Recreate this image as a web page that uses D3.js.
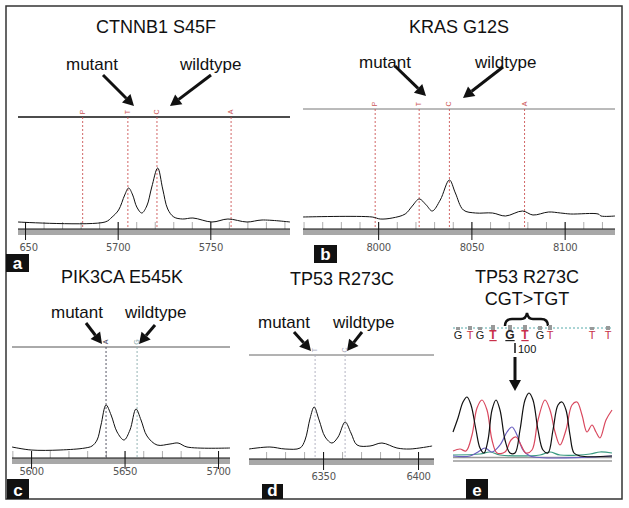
<!DOCTYPE html>
<html><head><meta charset="utf-8">
<script src="https://cdn.jsdelivr.net/npm/d3@7"></script>
<style>
html,body{margin:0;padding:0;background:#fff;}
svg{display:block;font-family:"Liberation Sans",Arial,Helvetica,sans-serif;}
</style></head>
<body><svg id="fig" width="629" height="508"></svg>
<script>
// ---------- DATA ----------
// Panel a: CTNNB1 S45F (mass, relative intensity)
const aMass = [5646.2,5693.2,5697,5700.5,5703.8,5705.9,5708.1,5710.3,5713,5715.7,5718.4,5721.6,5724.3,5727,5730.3,5735,5740.6,5750.9,5759.5,5769.8,5777.9,5793];
const aInt  = [7,7,12,19,34,41,34,22,16,23,42,61,40,20,12,10,11,7,10,7,9,7];
const aMarks = [5681.1,5705.5,5721.2,5761.2];
const aMarkLabels = ["P","T","C","A"];
const aTicks = [5650,5700,5750];
const aTickLabels = ["650","5700","5750"];

// Panel b: KRAS G12S
const bMass = [7959.7,7996.8,8001.1,8007.5,8014.5,8018.3,8022,8025.8,8029,8033.3,8038.2,8041.4,8045.7,8052.2,8061.3,8068.3,8077.4,8083,8091.4,8097.8,8103.2,8118,8119.5,8127];
const bInt  = [12,12,10,11,15,23,30,24,18,29,49,36,19,16,16,13,18,14,17,16,15,15,13,13];
const bMarks = [7998.4,8022,8038.2,8078.5];
const bMarkLabels = ["P","T","C","A"];
const bTicks = [8000,8050,8100];
const bTickLabels = ["8000","8050","8100"];

// Panel c: PIK3CA E545K
const cMass = [5589.8,5600,5615.5,5628.9,5632.6,5635.3,5637.4,5640.1,5642.8,5646,5649.7,5652.9,5656.1,5658.8,5662,5667.4,5674.3,5678.6,5683.4,5706.4];
const cInt  = [11,8,8,10,12,18,33,53,43,26,18,28,49,38,22,13,14,15,11,10];
const cMarks = [5640.1,5656.7];
const cMarkLabels = ["A","G"];
const cTicks = [5600,5650,5700];
const cTickLabels = ["5600","5650","5700"];

// Panel d: TP53 R273C
const dMass = [6311,6322,6330,6337.9,6340.5,6343.2,6345.3,6347.9,6351.1,6354.7,6357.9,6361.6,6364.7,6367.9,6374.7,6381,6388.9,6395.8,6407.4];
const dInt  = [10,12,10,11,19,41,52,39,22,16,22,37,26,14,13,16,11,10,13];
const dMarks = [6345.8,6361.6];
const dMarkLabels = ["T","C"];
const dTicks = [6350,6400];
const dTickLabels = ["6350","6400"];

// Panel e: Sanger chromatogram (scan position, signal)
const eBlackX = [0,5,10,14,18,23,27,31,35,39,43,47,52,57,62,67,72,76,80,85,90,95,100,105,109,113,117,121,127,159];
const eBlackY = [24,38,54,59,51,26,8,3,16,46,56,46,16,3,3,26,56,63,56,26,6,3,26,51,54,46,21,3,0,0];
const eRedX = [0,7,13,19,24,29,34,39,44,52,58,63,68,73,79,85,92,97,102,107,113,119,124,129,134,139,143,147,153,159];
const eRedY = [5,7,5,21,48,56,46,16,3,4,16,19,11,3,6,36,56,46,24,11,26,51,54,41,24,31,24,18,36,46];
const eBlueX = [0,17,25,32,39,47,54,59,64,70,77,159];
const eBlueY = [0,0,4,8,4,11,24,29,21,6,0,0];
const eGreenX = [0,27,37,47,87,97,107,137,147,159];
const eGreenY = [1,2,4,1,1,4,1,2,4,3];
const eSeq = ["G","T","G","T","G","T","G","T","T","T"];
const eSeqPos = [5,17,27,40,57,72,87,97,139,155];
const eSeqBold = [false,false,false,true,true,true,false,false,false,false];
const eQual = [3,4,3,5,5,5,4,5,3,4];

// ---------- DRAW ----------
const svg = d3.select("#fig");
svg.append("rect").attr("width",629).attr("height",508).attr("fill","#fff");
svg.append("rect").attr("x",6).attr("y",6).attr("width",616).attr("height",493)
  .attr("fill","none").attr("stroke","#333").attr("stroke-width",1.5);

function arrow(g, x1,y1,x2,y2, w){
  const ang = Math.atan2(y2-y1,x2-x1);
  const hl = 11, hw = 6;
  const bx = x2 - hl*Math.cos(ang), by = y2 - hl*Math.sin(ang);
  g.append("line").attr("x1",x1).attr("y1",y1).attr("x2",bx).attr("y2",by)
    .attr("stroke","#111").attr("stroke-width",w||3);
  const px = -Math.sin(ang)*hw, py = Math.cos(ang)*hw;
  g.append("path").attr("d",`M${x2},${y2}L${bx+px},${by+py}L${bx-px},${by-py}Z`).attr("fill","#111");
}

function letterBox(x,y,w,h,t){
  svg.append("rect").attr("x",x).attr("y",y).attr("width",w).attr("height",h).attr("fill","#111");
  svg.append("text").attr("x",x+w/2).attr("y",y+h-3).attr("text-anchor","middle")
    .attr("fill","#fff").attr("font-size",17).attr("font-weight","bold").text(t);
}

function spectrum(cfg){
  const g = svg.append("g");
  const x = d3.scaleLinear().domain(cfg.domain).range([cfg.x0,cfg.x1]);
  const y = d3.scaleLinear().domain([0,100]).range([cfg.axisY, cfg.axisY-100]);
  g.append("text").attr("x",cfg.titleX).attr("y",cfg.titleY).attr("text-anchor","middle")
    .attr("font-size",18).attr("fill","#111").text(cfg.title);
  g.append("text").attr("x",cfg.mutX).attr("y",cfg.labY).attr("font-size",17).attr("fill","#111").text("mutant");
  g.append("text").attr("x",cfg.wtX).attr("y",cfg.labY).attr("font-size",17).attr("fill","#111").text("wildtype");
  cfg.arrows.forEach(a=>arrow(g,a[0],a[1],a[2],a[3]));
  g.append("line").attr("x1",cfg.x0).attr("x2",cfg.x1).attr("y1",cfg.lineY).attr("y2",cfg.lineY)
    .attr("stroke",cfg.lineColor).attr("stroke-width",cfg.lineW);
  g.append("rect").attr("x",cfg.x0).attr("y",cfg.axisY).attr("width",cfg.x1-cfg.x0).attr("height",6).attr("fill","#a8a8a8");
  const minor = d3.range(Math.ceil(cfg.domain[0]/10)*10, cfg.domain[1], 10);
  const minAxis = d3.axisTop(x).tickValues(minor).tickSize(7).tickFormat("");
  const mg = g.append("g").attr("transform",`translate(0,${cfg.axisY})`).call(minAxis);
  mg.select(".domain").remove();
  mg.selectAll("line").attr("stroke","#999").attr("stroke-width",0.8);
  const ax = d3.axisBottom(x).tickValues(cfg.ticks).tickSize(11).tickPadding(cfg.pad)
    .tickFormat((d,i)=>cfg.tickLabels[i]);
  const ag = g.append("g").attr("transform",`translate(0,${cfg.axisY})`).call(ax);
  ag.select(".domain").attr("d",`M${cfg.x0},0H${cfg.x1}`).attr("stroke","#111").attr("stroke-width",1.2);
  ag.selectAll(".tick line").attr("y1",-7).attr("stroke","#111");
  ag.selectAll(".tick text").attr("font-size",10).attr("fill","#555")
    .attr("font-family","'DejaVu Sans',sans-serif").attr("letter-spacing",-0.3);
  if(cfg.firstAnchor){ ag.selectAll(".tick text").filter((d,i)=>i===0).attr("text-anchor","start").attr("dx",cfg.firstAnchor); }
  g.selectAll(".mk").data(cfg.marks).enter().append("line")
    .attr("x1",d=>x(d)).attr("x2",d=>x(d)).attr("y1",cfg.lineY).attr("y2",cfg.axisY)
    .attr("stroke",(d,i)=>cfg.markColors[i]).attr("stroke-width",0.9).attr("stroke-dasharray","2,2");
  g.selectAll(".ml").data(cfg.marks).enter().append("text")
    .attr("transform",d=>`translate(${x(d)+2},${cfg.lineY-5}) rotate(-90)`)
    .attr("font-size",7).attr("text-anchor","middle")
    .attr("fill",(d,i)=>cfg.markColors[i]).text((d,i)=>cfg.markLabels[i]);
  const pts = cfg.mass.map((m,i)=>[m,cfg.inten[i]]);
  g.append("path").datum(pts).attr("fill","none").attr("stroke","#111").attr("stroke-width",1)
    .attr("d",d3.line().x(d=>x(d[0])).y(d=>y(d[1])).curve(d3.curveCatmullRom.alpha(0.5)));
}

spectrum({title:"CTNNB1 S45F",titleX:156,titleY:33,mutX:66,wtX:180,labY:70,
  arrows:[[103,75,134,106],[211,75,170,106]],
  domain:[5646.2,5793],x0:18,x1:290,axisY:229,lineY:117,lineColor:"#111",lineW:1.5,
  ticks:aTicks,tickLabels:aTickLabels,pad:4,firstAnchor:-6,
  marks:aMarks,markLabels:aMarkLabels,markColors:["#c55","#c55","#c55","#c55"],
  mass:aMass,inten:aInt});
spectrum({title:"KRAS G12S",titleX:459,titleY:33,mutX:359,wtX:475,labY:68,
  arrows:[[395,66,426,96],[503,67,463,98]],
  domain:[7959.7,8127],x0:303,x1:615,axisY:229,lineY:109,lineColor:"#777",lineW:1,
  ticks:bTicks,tickLabels:bTickLabels,pad:4,
  marks:bMarks,markLabels:bMarkLabels,markColors:["#c55","#c55","#c55","#c55"],
  mass:bMass,inten:bInt});
spectrum({title:"PIK3CA E545K",titleX:122,titleY:283,mutX:51,wtX:125,labY:318,
  arrows:[[86,323,102,344],[155,325,139,344]],
  domain:[5589.8,5706.4],x0:12,x1:230,axisY:458,lineY:347,lineColor:"#555",lineW:1,
  ticks:cTicks,tickLabels:cTickLabels,pad:-1,
  marks:cMarks,markLabels:cMarkLabels,markColors:["#445","#8aa"],
  mass:cMass,inten:cInt});
spectrum({title:"TP53 R273C",titleX:342,titleY:285,mutX:258,wtX:333,labY:328,
  arrows:[[294,332,311,351],[362,332,347,351]],
  domain:[6311,6408.4],x0:249,x1:434,axisY:459,lineY:355,lineColor:"#666",lineW:1,
  ticks:dTicks,tickLabels:dTickLabels,pad:3,
  marks:dMarks,markLabels:dMarkLabels,markColors:["#aab","#aab"],
  mass:dMass,inten:dInt});

// ---------- Panel e ----------
(function(){
  const g = svg.append("g");
  const x = d3.scaleLinear().domain([0,159]).range([453,612]);
  const y = d3.scaleLinear().domain([0,100]).range([456,356]);
  g.append("text").attr("x",527).attr("y",283).attr("text-anchor","middle").attr("font-size",18).attr("fill","#111").text("TP53 R273C");
  g.append("text").attr("x",527).attr("y",305).attr("text-anchor","middle").attr("font-size",18).attr("fill","#111").text("CGT>TGT");
  g.append("path").attr("d","M505,326 Q505,319 512,319 L521,319 Q526,319 527,313 Q528,319 533,319 L541,319 Q548,319 548,326")
    .attr("fill","none").attr("stroke","#111").attr("stroke-width",2.5);
  g.append("line").attr("x1",453).attr("x2",612).attr("y1",328).attr("y2",328)
    .attr("stroke","#5aa").attr("stroke-dasharray","2,2").attr("stroke-width",1);
  g.selectAll(".q").data(eSeqPos).enter().append("rect")
    .attr("x",d=>x(d)-2).attr("y",(d,i)=>330-eQual[i]).attr("width",4).attr("height",(d,i)=>eQual[i])
    .attr("fill","#999");
  g.selectAll(".s").data(eSeq).enter().append("text")
    .attr("x",(d,i)=>x(eSeqPos[i])).attr("y",339).attr("text-anchor","middle")
    .attr("font-size",(d,i)=>eSeqBold[i]?12:11).attr("font-weight",(d,i)=>eSeqBold[i]?"bold":"normal")
    .attr("text-decoration",(d,i)=>eSeqBold[i]?"underline":"none")
    .attr("fill",d=>d==="T"?"#c8304a":"#222").text(d=>d);
  g.append("line").attr("x1",515).attr("x2",515).attr("y1",343).attr("y2",353).attr("stroke","#111").attr("stroke-width",1.5);
  g.append("text").attr("x",518).attr("y",353).attr("font-size",11).attr("fill","#111").text("100");
  arrow(g,515,357,515,391,3);
  g.append("line").attr("x1",453).attr("x2",612).attr("y1",457.5).attr("y2",457.5).attr("stroke","#999").attr("stroke-width",1.5);
  g.append("line").attr("x1",453).attr("x2",612).attr("y1",461).attr("y2",461).attr("stroke","#999").attr("stroke-width",1.5);
  const line = d3.line().x(d=>x(d[0])).y(d=>y(d[1])).curve(d3.curveCatmullRom.alpha(0.5));
  const traces = [[eGreenX,eGreenY,"#3a9a80"],[eBlueX,eBlueY,"#6a5fc0"],[eRedX,eRedY,"#d9485e"],[eBlackX,eBlackY,"#111"]];
  traces.forEach(t=>{
    g.append("path").datum(t[0].map((v,i)=>[v,t[1][i]])).attr("fill","none")
      .attr("stroke",t[2]).attr("stroke-width",1.2).attr("d",line);
  });
})();

letterBox(6,254,23,18,"a");
letterBox(314,245,23,18,"b");
letterBox(7,479,22,20,"c");
letterBox(262,484,21,15,"d");
letterBox(466,479,22,20,"e");
</script></body></html>
